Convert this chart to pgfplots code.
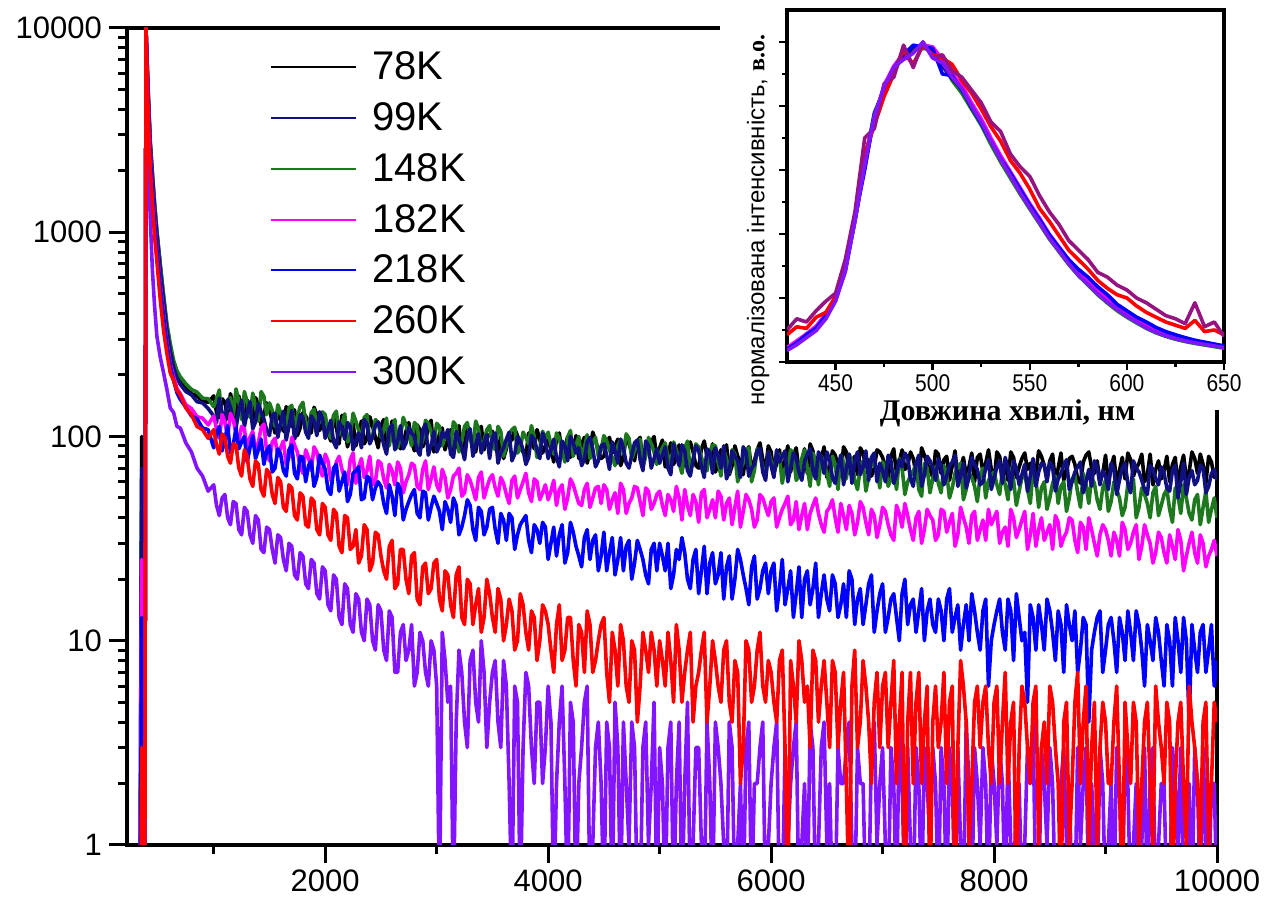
\documentclass[border=0pt]{standalone}
\usepackage{pgfplots}
\pgfplotsset{compat=1.18}
\usepackage{pgfplotstable}
\usepackage{graphicx}
\usepackage{fontspec}
\setmainfont{Liberation Sans}
\newfontfamily\tnr{Liberation Serif}

\definecolor{cK78}{RGB}{0,0,0}
\definecolor{cK99}{RGB}{16,16,128}
\definecolor{cK148}{RGB}{30,120,30}
\definecolor{cK182}{RGB}{255,0,255}
\definecolor{cK218}{RGB}{0,0,255}
\definecolor{cK260}{RGB}{255,0,0}
\definecolor{cK300}{RGB}{130,20,255}
\definecolor{cPur}{RGB}{150,20,130}

% luminescence decay: counts vs time channel (zero counts stored as 0.5, below the axis)
\pgfplotstableread{
x b n g m bl r v
340 0.5 0.5 0.5 0.5 0.5 0.5 0.5
348 15 10 12 6 3 0.5 0.5
354 100 70 40 25 13 3 2
362 0.5 0.5 0.5 0.5 0.5 0.5 0.5
382 0.5 0.5 0.5 0.5 0.5 0.5 0.5
392 10000 10000 10000 10000 10000 10000 10000
410 5200 5000 5100 4800 4700 4200 3000
430 2800 2700 2750 2500 2400 2100 1200
450 1900 1850 1950 1650 1600 1400 650
470 1350 1300 1380 1150 1100 950 430
490 1000 980 1020 840 820 720 310
520 690 650 700 560 540 470 245
550 480 465 495 400 385 330 205
580 345 330 355 290 280 255 170
610 275 262 285 228 222 205 138
640 228 218 236 196 188 188 131
670 205 194 210 172 164 168 112
700 188 180 196 162 152 160 110
750 176 166 181 143 139 138 93
800 162 160 170 137 126 128 84
850 158 148 165 125 122 112 70
900 149 146 154 123 110 108 64
950 147 137 153 114 108 98 54
1000 158 126 140 126 88 108 58
1025 131 117 152 109 104 91 46
1050 124 154 169 98 112 82 41
1075 153 131 119 128 85 103 50
1100 147 118 126 117 97 99 52
1125 122 152 141 100 113 80 40
1150 162 139 155 130 83 74 37
1175 141 121 127 121 91 92 48
1200 119 110 171 103 110 91 47
1225 158 135 149 95 87 70 35
1250 138 150 121 112 94 64 33
1275 117 112 166 109 100 86 45
1300 151 131 148 87 75 80 43
1325 139 148 124 99 88 62 33
1350 116 109 163 106 101 57 30
1375 155 118 140 85 78 76 41
1400 144 145 119 93 86 73 39
1425 113 132 166 110 97 55 28
1450 128 122 157 115 73 51 27
1475 146 107 128 84 85 69 36
1500 136 101 146 76 90 66 35
1525 118 127 134 94 67 52 28
1550 104 130 112 98 70 47 24
1575 137 99 143 80 87 63 33
1600 121 117 131 88 82 60 32
1625 106 133 116 95 68 45 25
1650 140 96 105 73 64 43 22
1675 127 112 138 79 86 58 30
1700 112 134 142 99 91 56 29
1725 135 97 110 91 66 41 21
1750 101 108 125 84 62 39 20
1775 110 128 140 72 80 53 27
1800 131 124 147 66 79 51 26
1825 126 105 117 86 60 37 19
1850 118 98 109 79 72 36 18
1875 104 126 131 68 76 50 25
1900 139 119 136 89 57 48 24
1925 128 101 112 84 63 35 17
1950 107 132 118 70 81 33 16
1975 117 123 132 64 74 47 23
2000 122 98 128 82 69 45 22
2025 104 108 106 76 55 33 15
2050 95 120 98 61 52 31 14
2075 125 94 127 65 70 44 21
2100 111 88 133 75 73 42 20
2125 92 118 102 80 54 29 13
2150 127 110 115 69 60 27 12
2175 113 97 129 62 67 41 19
2200 89 117 94 58 48 40 18
2225 101 112 100 77 52 28 12
2250 116 86 130 83 66 29 11
2275 90 95 119 59 68 35 17
2300 104 104 107 71 71 24 16
2325 119 88 96 78 49 26 11
2350 92 121 124 63 50 37 10
2375 98 115 128 68 64 35 16
2400 125 92 93 80 62 22 15
2425 112 99 100 58 49 24 10
2450 99 113 121 60 56 34 9
2475 88 118 117 76 60 33 15
2500 113 106 99 74 57 26 14
2525 121 91 107 62 47 22 9
2550 86 82 123 56 42 20 8
2575 95 109 90 73 58 29 14
2600 119 114 110 68 51 31 13
2625 110 86 121 58 41 18 7
2650 101 95 88 75 59 19 7
2675 87 113 99 70 55 28 11
2700 92 87 124 53 39 28 12
2725 106 93 114 60 44 20 8
2750 117 111 102 65 48 17 9
2775 95 104 90 74 52 26 12
2800 85 100 117 72 55 27 6
2825 114 86 113 57 42 16 7
2850 108 81 87 55 40 15 11
2875 89 108 96 69 54 23 10
2900 96 115 120 76 53 24 7
2925 110 81 116 55 39 17 6
2950 120 90 106 62 45 18 10
2975 84 106 92 71 51 24 9
3000 88 84 116 58 47 25 6
3025 103 90 112 54 43 16 0.5
3050 110 105 90 69 35 14 11
3075 86 99 99 63 48 22 8
3100 97 108 104 50 44 21 5
3125 108 82 88 55 38 15 6
3150 81 79 118 64 50 13 0.5
3175 94 106 113 66 46 21 4
3200 113 97 84 70 33 23 9
3225 85 88 95 51 36 13 7
3250 92 77 112 53 41 12 4
3275 109 101 117 65 49 20 3
3300 104 109 97 61 46 19 8
3325 91 80 89 55 35 12 9
3350 84 91 119 49 31 15 5
3375 106 103 109 63 45 18 4
3400 112 83 86 67 43 11 10
3425 86 93 95 50 33 13 7
3450 99 102 108 56 36 20 3
3475 102 78 113 62 44 17 5
3500 106 99 92 65 45 13 7
3525 92 104 86 56 35 11 8
3550 85 74 112 51 30 18 4
3575 100 83 106 63 42 16 3
3600 78 88 80 59 39 10 8
3625 87 97 90 52 31 12 6
3650 102 105 103 47 42 16 2
3675 96 76 108 61 40 14 0.5
3700 109 82 111 64 28 9 6
3725 101 100 83 50 33 10 5
3750 90 95 87 55 37 17 0.5
3775 84 86 105 60 39 15 3
3800 80 73 99 66 41 11 7
3825 104 79 92 53 31 9 6
3850 99 101 113 48 27 14 3
3875 87 97 100 62 37 13 2
3900 108 86 79 60 35 8 5
3925 97 78 87 49 30 10 5
3950 83 104 106 53 38 15 2
3975 90 95 98 58 36 14 3
4000 96 78 105 49 25 12 6
4025 87 86 91 54 30 9 4
4050 75 97 82 61 36 7 0.5
4075 98 79 104 46 26 12 2
4100 104 71 98 55 33 15 4
4125 81 95 86 58 37 8 6
4150 88 90 75 44 24 9 2
4175 100 76 99 50 27 13 0.5
4200 79 100 107 62 38 13 5
4225 86 93 80 58 34 8 4
4250 101 83 91 52 29 6 0.5
4275 78 88 100 47 26 12 2
4300 92 72 76 46 23 11 3
4325 99 77 88 55 32 7 5
4350 74 94 102 59 35 14 6
4375 84 99 78 45 25 12 0.5
4400 105 87 94 50 31 7 1
4425 96 71 99 56 33 8 3
4450 85 76 80 57 22 10 4
4475 78 90 86 47 26 12 2
4500 80 92 101 58 34 13 0.5
4525 93 81 95 55 22 7 4
4550 99 69 86 44 27 5 3
4575 83 94 79 49 32 11 0.5
4600 90 85 72 53 21 9 5
4625 97 74 90 42 25 6 3
4650 72 97 97 59 32 12 0.5
4675 79 88 82 55 22 10 4
4700 101 74 103 42 29 6 2
4725 92 70 98 47 31 5 1
4750 84 81 78 50 20 10 4
4775 76 93 85 57 24 9 3
4800 95 96 91 56 31 4 0.5
4825 99 77 97 48 28 6 0.5
4850 73 68 71 41 25 11 3
4875 82 95 80 56 21 9 4
4900 88 90 99 54 19 7 1
4925 94 70 92 44 28 11 2
4950 100 78 84 47 30 9 5
4975 78 87 73 52 22 6 0.5
5000 88 74 81 54 30 10 3
5025 96 81 88 46 26 8 2
5050 71 89 93 41 22 6 0.5
5075 82 70 79 52 30 11 3
5100 93 65 70 49 18 8 4
5125 73 92 94 43 21 5 0.5
5150 79 80 86 57 28 12 2
5175 91 72 74 50 25 9 4
5200 68 91 66 39 32 5 0.5
5225 77 85 88 55 27 7 2
5250 90 68 95 46 20 9 5
5275 94 64 68 41 18 11 0.5
5300 84 77 77 52 25 4 1
5325 72 90 92 48 28 6 3
5350 70 86 89 38 17 7 3
5375 87 71 79 53 22 9 1
5400 95 63 72 55 29 11 0.5
5425 80 87 68 40 17 4 4
5450 75 84 84 44 24 6 2
5475 92 66 91 49 27 10 0.5
5500 67 88 90 40 19 8 4
5525 73 81 75 54 21 6 3
5550 86 70 64 51 27 5 2
5575 83 90 86 39 16 9 1
5600 91 62 78 47 23 10 0.5
5625 65 68 66 50 26 5 4
5650 72 85 86 37 16 4 3
5675 90 80 82 45 20 8 0.5
5700 80 76 60 54 28 7 1
5725 75 63 69 36 25 2 2
5750 65 89 74 43 21 3 0.5
5775 84 84 85 52 18 10 3
5800 89 64 88 49 15 9 4
5825 68 70 60 44 23 5 0.5
5850 76 73 68 36 26 6 2
5875 86 85 87 39 16 9 2
5900 93 87 82 52 18 11 3
5925 77 67 71 50 22 6 4
5950 69 61 62 45 24 5 0.5
5975 90 84 84 41 17 8 1
6000 84 72 76 48 22 7 2
6025 66 63 64 50 24 5 3
6050 74 86 85 36 14 4 4
6075 86 75 80 40 18 8 0.5
6100 64 80 59 44 25 9 0.5
6125 77 85 70 47 15 3 3
6150 90 60 71 51 18 0.5 1
6175 67 70 86 37 22 8 2
6200 81 83 83 39 13 6 3
6225 88 78 61 48 17 4 4
6250 68 67 64 35 23 10 0.5
6275 75 61 78 41 13 8 1
6300 87 75 86 47 20 5 2
6325 66 82 70 35 22 6 0.5
6350 92 87 57 42 15 3 4
6375 85 68 83 46 18 9 3
6400 70 62 73 50 24 8 0.5
6425 73 84 58 42 13 4 1
6450 78 79 80 37 17 6 3
6475 89 66 74 34 21 8 4
6500 63 84 66 43 16 5 1
6525 70 77 57 45 14 3 2
6550 85 63 80 49 21 8 0.5
6575 81 59 73 40 19 7 0.5
6600 73 71 55 34 13 3 3
6625 64 81 81 47 15 5 2
6650 89 58 75 41 19 7 2
6675 84 70 62 35 13 2 3
6700 66 82 82 46 22 0.5 4
6725 75 59 75 42 20 6 1
6750 80 76 61 33 12 9 0.5
6775 65 84 55 38 16 3 3
6800 88 65 70 48 18 4 2
6825 83 71 76 45 12 8 2
6850 71 85 54 38 15 6 0.5
6875 77 61 63 33 19 4 0.5
6900 64 79 78 44 21 2 3
6925 70 83 72 41 11 5 4
6950 86 60 69 32 14 7 1
6975 84 74 56 37 17 3 2
7000 79 68 75 45 19 6 3
7025 71 60 71 43 11 7 1
7050 62 81 57 37 13 3 0.5
7075 80 76 62 33 16 5 3
7100 87 59 68 31 17 8 2
7125 65 65 55 46 13 2 0.5
7150 75 77 78 42 10 4 4
7175 86 71 70 36 17 7 2
7200 69 83 52 47 20 0.5 0.5
7225 72 79 60 41 12 4 3
7250 84 62 64 35 15 7 1
7275 78 57 68 31 16 2 0.5
7300 66 74 73 40 11 5 3
7325 62 81 55 43 14 7 2
7350 88 57 51 30 18 2 0.5
7375 81 65 74 35 10 4 3
7400 73 80 70 44 14 6 2
7425 69 76 53 41 16 0.5 1
7450 63 70 62 39 12 4 3
7475 85 61 71 31 11 6 2
7500 82 78 59 33 16 3 0.5
7525 66 72 53 44 14 4 3
7550 77 58 72 43 10 7 2
7575 80 64 66 34 16 2 0.5
7600 61 72 50 38 18 5 3
7625 72 75 56 42 11 6 2
7650 85 81 66 29 13 0.5 0.5
7675 62 57 71 33 15 3 3
7700 70 64 74 45 9 8 1
7725 79 74 49 40 12 6 0.5
7750 64 56 55 36 15 4 4
7775 71 63 66 30 10 1 2
7800 83 79 63 41 17 2 0.5
7825 60 73 57 43 14 5 3
7850 79 69 48 31 11 6 2
7875 82 58 64 35 9 3 1
7900 67 60 70 39 14 5 3
7925 74 70 50 31 16 6 2
7950 86 77 61 44 6 3 0.5
7975 69 55 65 37 10 2 3
8000 60 62 67 40 12 5 2
8025 84 71 58 43 14 6 1
8050 80 76 52 30 16 2 3
8075 66 59 68 34 11 4 2
8100 74 79 58 36 9 7 0.5
8125 61 70 49 29 16 2 3
8150 84 55 70 44 14 4 1
8175 79 76 61 40 8 5 0.5
8200 63 70 46 32 17 0.5 2
8225 71 58 54 35 13 3 2
8250 78 65 63 39 10 6 0.5
8275 83 73 66 43 11 5 1
8300 69 54 55 28 5 3 3
8325 74 64 47 33 15 2 2
8350 61 78 68 42 13 5 4
8375 66 57 62 29 9 6 0.5
8400 85 67 45 35 15 1 0.5
8425 80 74 56 40 12 3 3
8450 72 73 60 31 9 4 2
8475 62 60 44 34 16 2 1
8500 76 75 50 37 14 6 3
8525 82 71 59 28 11 5 2
8550 59 54 64 41 8 3 0.5
8575 70 62 47 38 14 2 0.5
8600 83 66 57 29 12 0.5 2
8625 61 72 60 32 7 4 3
8650 68 77 43 34 15 5 1
8675 78 55 50 40 12 1 2
8700 80 60 62 39 10 2 0.5
8725 73 67 65 31 14 5 0.5
8750 62 71 53 27 7 7 3
8775 59 75 45 38 9 2 1
8800 75 53 66 36 13 4 2
8825 81 60 58 28 12 6 3
8850 84 69 47 40 4 1 0.5
8875 70 57 63 35 9 3 2
8900 66 76 59 30 11 5 1
8925 76 71 49 26 13 1 0.5
8950 60 58 44 33 14 3 3
8975 66 68 56 37 7 5 2
9000 81 64 61 35 9 4 0.5
9025 59 55 43 31 12 2 1
9050 71 74 48 26 13 2 2
9075 80 69 60 34 10 4 0.5
9100 58 52 55 31 7 6 3
9125 68 61 50 26 13 2 2
9150 79 70 41 38 11 0.5 0.5
9175 62 74 45 35 8 5 3
9200 83 59 58 28 14 3 2
9225 77 53 55 30 11 2 0.5
9250 64 76 62 34 8 5 1
9275 70 70 40 37 14 4 2
9300 74 67 45 25 12 1 0.5
9325 82 61 56 29 9 2 1
9350 60 55 52 37 6 4 3
9375 65 52 47 33 12 5 0.5
9400 82 72 40 30 10 2 2
9425 58 69 53 24 8 1 3
9450 69 62 57 27 13 6 0.5
9475 76 58 41 34 11 4 1
9500 62 71 46 32 8 3 2
9525 68 66 52 27 6 2 2
9550 80 56 55 24 12 5 0.5
9575 60 54 44 33 10 4 0.5
9600 73 68 38 29 6 0.5 3
9625 79 72 56 25 13 2 2
9650 57 50 51 35 10 4 1
9675 71 60 42 31 7 5 3
9700 81 74 58 22 13 2 0.5
9725 62 52 50 26 10 1 1
9750 67 63 42 30 4 6 2
9775 84 68 39 34 12 4 0.5
9800 78 58 49 27 9 3 3
9825 66 61 52 24 7 2 2
9850 82 72 37 33 11 1 0.5
9875 73 70 45 30 12 4 3
9900 59 53 54 23 7 5 1
9925 80 57 38 26 9 1 0.5
9950 75 66 44 28 12 2 2
9975 63 69 50 31 6 5 2
10000 70 61 40 26 8 4 0.5
}\decay

% normalised emission spectra
\pgfplotstableread{
nm bk nv gr mg bl rd vi pu
425 0.040 0.042 0.038 0.045 0.040 0.085 0.036 0.100
430 0.058 0.061 0.055 0.066 0.060 0.110 0.054 0.135
435 0.080 0.078 0.083 0.088 0.085 0.105 0.076 0.125
440 0.103 0.108 0.100 0.112 0.106 0.140 0.098 0.160
445 0.140 0.136 0.143 0.150 0.145 0.155 0.135 0.190
450 0.195 0.198 0.192 0.200 0.196 0.205 0.190 0.215
455 0.290 0.285 0.295 0.300 0.288 0.300 0.282 0.320
460 0.445 0.450 0.440 0.455 0.448 0.460 0.440 0.470
465 0.620 0.610 0.625 0.640 0.600 0.650 0.615 0.700
470 0.770 0.765 0.780 0.760 0.775 0.740 0.770 0.730
475 0.855 0.860 0.850 0.865 0.850 0.830 0.860 0.870
480 0.915 0.920 0.910 0.925 0.918 0.900 0.922 0.890
485 0.955 0.950 0.958 0.965 0.960 0.975 0.945 0.990
490 0.980 0.985 0.975 0.930 0.990 0.930 0.965 0.920
495 0.985 0.990 0.980 0.990 0.985 0.990 1.000 1.000
500 0.970 0.965 0.975 0.985 0.980 0.960 0.950 0.950
505 0.930 0.925 0.935 0.945 0.900 0.950 0.935 0.960
510 0.890 0.885 0.880 0.900 0.895 0.930 0.890 0.910
515 0.850 0.855 0.840 0.865 0.850 0.880 0.855 0.890
520 0.800 0.795 0.790 0.810 0.800 0.840 0.800 0.850
525 0.745 0.750 0.740 0.760 0.745 0.790 0.750 0.810
530 0.685 0.690 0.680 0.700 0.690 0.735 0.690 0.750
535 0.630 0.635 0.625 0.645 0.635 0.690 0.632 0.720
540 0.580 0.585 0.575 0.595 0.590 0.630 0.582 0.650
545 0.530 0.535 0.525 0.545 0.540 0.590 0.530 0.610
550 0.482 0.486 0.478 0.495 0.490 0.540 0.482 0.580
555 0.435 0.440 0.432 0.450 0.445 0.480 0.436 0.520
560 0.388 0.392 0.385 0.400 0.398 0.440 0.388 0.470
565 0.348 0.352 0.345 0.360 0.358 0.395 0.348 0.430
570 0.308 0.312 0.305 0.320 0.320 0.350 0.308 0.380
575 0.272 0.276 0.270 0.285 0.290 0.320 0.272 0.350
580 0.242 0.246 0.240 0.255 0.265 0.290 0.243 0.320
585 0.212 0.215 0.210 0.225 0.235 0.255 0.213 0.280
590 0.186 0.190 0.184 0.198 0.210 0.230 0.187 0.265
595 0.163 0.167 0.160 0.175 0.180 0.210 0.164 0.240
600 0.142 0.145 0.140 0.152 0.160 0.200 0.143 0.225
605 0.124 0.127 0.122 0.133 0.140 0.175 0.125 0.200
610 0.107 0.110 0.105 0.116 0.125 0.155 0.107 0.185
615 0.093 0.096 0.091 0.101 0.108 0.140 0.093 0.165
620 0.082 0.085 0.080 0.089 0.095 0.125 0.082 0.145
625 0.073 0.075 0.071 0.079 0.085 0.115 0.073 0.135
630 0.066 0.068 0.064 0.071 0.076 0.105 0.066 0.120
635 0.060 0.062 0.058 0.065 0.068 0.130 0.060 0.185
640 0.055 0.057 0.053 0.060 0.062 0.095 0.055 0.110
645 0.050 0.052 0.048 0.055 0.056 0.100 0.050 0.125
650 0.045 0.047 0.043 0.050 0.050 0.085 0.045 0.080
}\spectra

\begin{document}
\begin{tikzpicture}
\path[use as bounding box] (0,0) rectangle (638.5pt,451.5pt);

% main panel: decay curves
\begin{axis}[
  at={(63.5pt,29pt)}, anchor=south west,
  scale only axis, width=545pt, height=408.5pt,
  xmin=222, xmax=10000, ymode=log, ymin=1, ymax=10000,
  axis line style={line width=1.6pt},
  tick pos=left, tick align=outside,
  xtick={2000,4000,6000,8000,10000},
  xticklabels={2000,4000,6000,8000,10000},
  minor xtick={1000,3000,5000,7000,9000},
  ytick={1,10,100,1000,10000},
  yticklabels={1,10,100,1000,10000},
  major tick length=9pt, minor tick length=4.5pt,
  every tick/.style={black, line width=1.5pt},
  tick label style={font=\fontsize{15.5}{17}\selectfont},
  legend style={draw=none, fill=none, at={(0.1312,0.9712)}, anchor=north west,
    font=\fontsize{20}{22}\selectfont, row sep=9.9pt, inner sep=0pt,
    nodes={inner sep=0pt},
    /tikz/every odd column/.append style={column sep=7.5pt}},
  legend cell align=left,
  legend image code/.code={\draw[#1,line width=1pt] (0pt,0pt) -- (42.5pt,0pt);},
  decay/.style={line width=1.8pt, line join=round, forget plot},
]
\addlegendimage{cK78}\addlegendentry{78K}
\addlegendimage{cK99}\addlegendentry{99K}
\addlegendimage{cK148}\addlegendentry{148K}
\addlegendimage{cK182}\addlegendentry{182K}
\addlegendimage{cK218}\addlegendentry{218K}
\addlegendimage{cK260}\addlegendentry{260K}
\addlegendimage{cK300}\addlegendentry{300K}
\addplot[cK78, decay] table[x=x,y=b]{\decay};
\addplot[cK148, decay] table[x=x,y=g]{\decay};
\addplot[cK99, decay] table[x=x,y=n]{\decay};
\addplot[cK182, decay] table[x=x,y=m]{\decay};
\addplot[cK218, decay] table[x=x,y=bl]{\decay};
\addplot[cK300, decay] table[x=x,y=v]{\decay};
\addplot[cK260, decay] table[x=x,y=r]{\decay};
\end{axis}

% white backing for the inset
\fill[white] (360pt,246.5pt) rectangle (638.5pt,451.5pt);

% inset: emission spectra
\begin{axis}[
  at={(393.5pt,270.5pt)}, anchor=south west,
  scale only axis, width=218.5pt, height=176pt,
  xmin=425, xmax=650, ymin=0, ymax=1.1,
  axis line style={line width=1.6pt},
  tick pos=left, tick align=outside,
  xtick={450,500,550,600,650},
  xticklabels={\scalebox{1}[1.15]{450},\scalebox{1}[1.15]{500},\scalebox{1}[1.15]{550},\scalebox{1}[1.15]{600},\scalebox{1}[1.15]{650}},
  minor xtick={475,525,575,625},
  ytick={0,0.2,0.4,0.6,0.8,1.0},
  minor ytick={0.1,0.3,0.5,0.7,0.9},
  yticklabels={},
  major tick length=4pt, minor tick length=2.5pt,
  every tick/.style={black, line width=1.2pt},
  xticklabel style={font=\fontsize{10.5}{11}\selectfont, inner sep=2pt},
  xlabel={\tnr\bfseries Довжина хвилі, нм},
  xlabel style={font=\fontsize{15}{16}\selectfont, at={(axis description cs:0.505,-0.166)}, anchor=base, inner sep=0pt},
  ylabel={нормалізована інтенсивність, {\tnr\bfseries в.о.}},
  ylabel style={font=\fontsize{12}{13}\selectfont, at={(axis description cs:-0.066,0.403)}, anchor=center, inner sep=0pt},
  spec/.style={line width=1.8pt, line join=round},
]
\addplot[cK78, spec] table[x=nm,y=bk]{\spectra};
\addplot[cK148, spec] table[x=nm,y=gr]{\spectra};
\addplot[cK99, spec] table[x=nm,y=nv]{\spectra};
\addplot[cK182, spec] table[x=nm,y=mg]{\spectra};
\addplot[cK218, spec] table[x=nm,y=bl]{\spectra};
\addplot[cK260, spec] table[x=nm,y=rd]{\spectra};
\addplot[cPur, spec] table[x=nm,y=pu]{\spectra};
\addplot[cK300, spec] table[x=nm,y=vi]{\spectra};
\end{axis}
\end{tikzpicture}
\end{document}
